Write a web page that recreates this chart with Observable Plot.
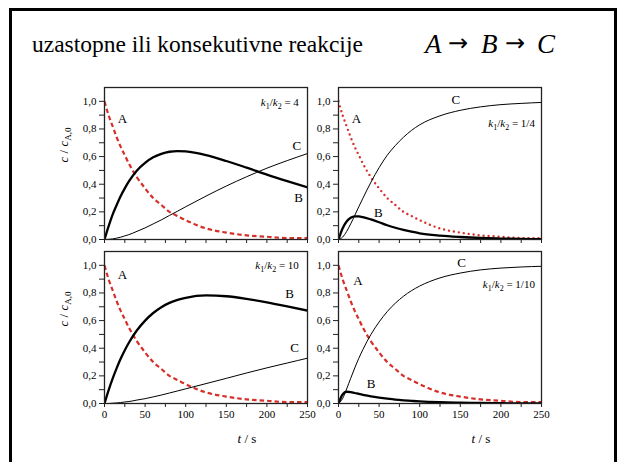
<!DOCTYPE html>
<html>
<head>
<meta charset="utf-8">
<script src="https://cdn.jsdelivr.net/npm/d3@7"></script>
<script src="https://cdn.jsdelivr.net/npm/@observablehq/plot@0.6"></script>
<style>
  html, body { margin: 0; padding: 0; background: white; font-family: Liberation Serif; }
  #page { position: relative; width: 620px; height: 462px; overflow: hidden; background: white; }
  #page > svg { position: absolute; }
  #page text { font-family: Liberation Serif; }
</style>
</head>
<body>
<div id="page"></div>
<script>
// ---- data ----
const t   = [0, 5, 10, 15, 20, 25, 30, 40, 50, 60, 70, 80, 90, 100, 125, 150, 175, 200, 225, 250];
const cA  = [1.00, 0.90, 0.82, 0.74, 0.67, 0.61, 0.55, 0.45, 0.37, 0.30, 0.25, 0.20, 0.17, 0.14, 0.08, 0.05, 0.03, 0.02, 0.01, 0.01];

const bTL = [0, 0.095, 0.18, 0.25, 0.315, 0.37, 0.42, 0.50, 0.555, 0.595, 0.62, 0.635, 0.64, 0.637, 0.61, 0.568, 0.52, 0.47, 0.423, 0.378];
const cTL = [0, 0.001, 0.004, 0.01, 0.017, 0.026, 0.035, 0.059, 0.084, 0.113, 0.142, 0.174, 0.205, 0.237, 0.314, 0.387, 0.454, 0.516, 0.571, 0.622];

const bTR = [0, 0.08, 0.13, 0.158, 0.168, 0.167, 0.162, 0.145, 0.125, 0.103, 0.085, 0.07, 0.057, 0.045, 0.028, 0.018, 0.011, 0.007, 0.004, 0.003];
const cTR = [0, 0.017, 0.058, 0.113, 0.174, 0.237, 0.298, 0.415, 0.52, 0.61, 0.68, 0.74, 0.79, 0.83, 0.895, 0.935, 0.96, 0.976, 0.985, 0.992];

const bBL = [0, 0.095, 0.18, 0.256, 0.325, 0.386, 0.44, 0.53, 0.60, 0.655, 0.697, 0.728, 0.75, 0.765, 0.782, 0.776, 0.757, 0.732, 0.703, 0.672];
const cBL = [0, 0, 0.002, 0.004, 0.007, 0.011, 0.014, 0.025, 0.035, 0.048, 0.061, 0.076, 0.091, 0.106, 0.144, 0.182, 0.221, 0.258, 0.293, 0.328];

const bBR = [0, 0.065, 0.085, 0.082, 0.076, 0.069, 0.063, 0.052, 0.043, 0.035, 0.028, 0.023, 0.019, 0.015, 0.009, 0.006, 0.004, 0.002, 0.001, 0.001];
const cBR = [0, 0.035, 0.105, 0.182, 0.257, 0.327, 0.39, 0.50, 0.59, 0.665, 0.726, 0.776, 0.817, 0.85, 0.909, 0.944, 0.967, 0.98, 0.988, 0.993];

const ratios = ["4", "1/4", "10", "1/10"];
const xTicks = [0, 25, 50, 75, 100, 125, 150, 175, 200, 225, 250];
const yTicks = [0, 0.1, 0.2, 0.3, 0.4, 0.5, 0.6, 0.7, 0.8, 0.9, 1.0];
const titleText = "uzastopne ili konsekutivne reakcije";
const species = ["A", "B", "C"];

// ---- layout ----
const FONT = "Liberation Serif";
const RED = "#d6302b";
const panels = [
  {b: bTL, c: cTL, ratio: ratios[0], left: 104, top: 87, bottom: false, yLabel: true, dotted: false,
   labels: [{t: 22, v: 0.873, s: species[0]}, {t: 237, v: 0.68, s: species[2]}, {t: 239, v: 0.30, s: species[1]}], kPos: [240, 0.99]},
  {b: bTR, c: cTR, ratio: ratios[1], left: 338, top: 87, bottom: false, yLabel: false, dotted: true,
   labels: [{t: 22, v: 0.873, s: species[0]}, {t: 144.5, v: 1.01, s: species[2]}, {t: 49, v: 0.19, s: species[1]}], kPos: [242.5, 0.84]},
  {b: bBL, c: cBL, ratio: ratios[2], left: 104, top: 251, bottom: true, yLabel: true, dotted: false,
   labels: [{t: 22, v: 0.93, s: species[0]}, {t: 228, v: 0.794, s: species[1]}, {t: 234, v: 0.40, s: species[2]}], kPos: [240, 1.0]},
  {b: bBR, c: cBR, ratio: ratios[3], left: 338, top: 251, bottom: true, yLabel: false, dotted: false,
   labels: [{t: 24, v: 0.89, s: species[0]}, {t: 151.5, v: 1.015, s: species[2]}, {t: 40, v: 0.14, s: species[1]}], kPos: [242.5, 0.86]}
];

const page = d3.select("#page");

// background frame + title
const bg = page.append("svg").attr("width", 620).attr("height", 462).style("left", "0px").style("top", "0px");
bg.append("path").attr("d", "M10.5,480 V9.5 H615.5 V480").attr("fill", "none").attr("stroke", "black").attr("stroke-width", 3);
bg.append("text").attr("x", 32).attr("y", 52).attr("font-family", FONT).attr("font-size", 23.5).attr("fill", "black").text(titleText);
// A → B → C
const eqItems = [
  {s: species[0], x: 425, arrow: false}, {s: "\u2192", x: 448, arrow: true},
  {s: species[1], x: 481, arrow: false}, {s: "\u2192", x: 505, arrow: true},
  {s: species[2], x: 537, arrow: false}
];
eqItems.forEach(e => {
  bg.append("text").attr("x", e.x).attr("y", e.arrow ? 51 : 53)
    .attr("font-family", e.arrow ? "DejaVu Sans" : FONT)
    .style("font-family", e.arrow ? "DejaVu Sans" : FONT)
    .attr("font-size", e.arrow ? 24 : 27)
    .attr("font-style", e.arrow ? "normal" : "italic")
    .attr("fill", "black").text(e.s);
});

const fmtY = d => { const k = Math.round(d * 10); return k % 2 === 0 ? (k / 10).toFixed(1).replace(".", ",") : ""; };

const ML = 50, MR = 12, MT = 12, W = 203, H = 152;

panels.forEach(p => {
  const rows = t.map((tt, i) => ({t: tt, a: cA[i], b: p.b[i], c: p.c[i]}));
  const MB = p.bottom ? 52 : 12;
  const plot = Plot.plot({
    width: ML + W + MR,
    height: MT + H + MB,
    marginLeft: ML, marginRight: MR, marginTop: MT, marginBottom: MB,
    style: {fontFamily: FONT, fontSize: "11px", background: "transparent", overflow: "visible", color: "black"},
    x: {domain: [0, 250]},
    y: {domain: [0, 1.1]},
    marks: [
      Plot.axisY({ticks: yTicks, tickSize: 5, tickPadding: 3, tickFormat: fmtY, label: null, stroke: "#222", fontFamily: FONT}),
      Plot.axisX({ticks: xTicks, tickSize: 4, tickPadding: 3, tickFormat: p.bottom ? (d => d % 50 === 0 ? String(d) : "") : (() => ""), label: null, stroke: "#222", fontFamily: FONT}),
      Plot.line(rows, {x: "t", y: "a", stroke: RED, strokeWidth: p.dotted ? 2.4 : 2.2,
        strokeDasharray: p.dotted ? "0,5" : "4.5,3", strokeLinecap: p.dotted ? "round" : "butt", curve: "monotone-x", clip: true}),
      Plot.line(rows, {x: "t", y: "c", stroke: "black", strokeWidth: 1, curve: "monotone-x", clip: true}),
      Plot.line(rows, {x: "t", y: "b", stroke: "black", strokeWidth: 2.3, curve: "monotone-x", clip: true}),
      Plot.text(p.labels, {x: "t", y: "v", text: "s", fontSize: 13, fontFamily: FONT, fill: "black"}),
      Plot.frame({stroke: "#222", strokeWidth: 1.3})
    ]
  });
  const svg = d3.select(plot);
  const sx = plot.scale("x"), sy = plot.scale("y");

  // k1/k2 label
  const k = svg.append("text").attr("x", sx.apply(p.kPos[0])).attr("y", sy.apply(p.kPos[1]) + 4)
    .attr("text-anchor", "end").attr("font-family", FONT).attr("font-size", 11).attr("fill", "#000");
  k.append("tspan").attr("font-style", "italic").text("k");
  k.append("tspan").attr("font-size", 8).attr("dy", 3).text("1");
  k.append("tspan").attr("dy", -3).text("/");
  k.append("tspan").attr("font-style", "italic").text("k");
  k.append("tspan").attr("font-size", 8).attr("dy", 3).text("2");
  k.append("tspan").attr("dy", -3).text(" = " + p.ratio);

  // y label
  if (p.yLabel) {
    const yl = svg.append("text").attr("transform", `translate(${ML - 36},${sy.apply(0.68)}) rotate(-90)`)
      .attr("text-anchor", "middle").attr("font-family", FONT).attr("font-size", 13).attr("fill", "black");
    yl.append("tspan").attr("font-style", "italic").text("c");
    yl.append("tspan").text(" / ");
    yl.append("tspan").attr("font-style", "italic").text("c");
    yl.append("tspan").attr("font-size", 9).attr("dy", 3).text("A,0");
  }
  // x label
  if (p.bottom) {
    const xl = svg.append("text").attr("x", sx.apply(176)).attr("y", MT + H + 40)
      .attr("text-anchor", "middle").attr("font-family", FONT).attr("font-size", 13).attr("fill", "black");
    xl.append("tspan").attr("font-style", "italic").text("t");
    xl.append("tspan").text(" / s");
  }

  plot.style.position = "absolute";
  plot.style.left = (p.left - ML) + "px";
  plot.style.top = (p.top - MT) + "px";
  document.getElementById("page").appendChild(plot);
});
</script>
</body>
</html>
